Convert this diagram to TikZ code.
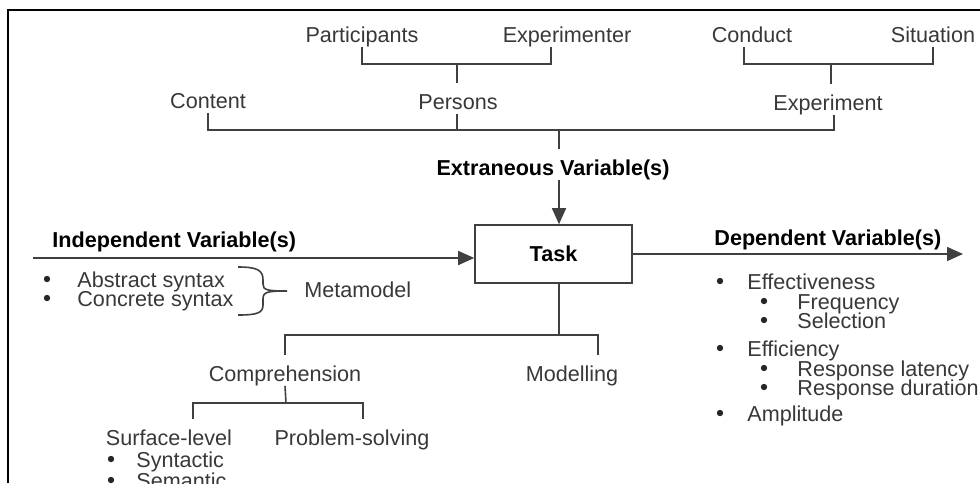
\documentclass[tikz,border=0pt]{standalone}
\usepackage{fontspec}
\setmainfont{Liberation Sans}
\usetikzlibrary{arrows.meta}
\definecolor{txtgray}{gray}{0.22}
\definecolor{linegray}{gray}{0.25}
\newcommand{\basefont}{\fontsize{10.8}{13}\selectfont}

\begin{document}
\begin{tikzpicture}[x=0.5pt, y=-0.5pt,
    lbl/.style={inner sep=0pt, text height=12.8pt, text depth=2.2pt, anchor=base, text=txtgray, font=\basefont},
    head/.style={lbl, text=black, font=\basefont\bfseries},
    item/.style={inner sep=0pt, anchor=base west, text=txtgray, font=\basefont},
    conn/.style={draw=linegray, line width=0.8pt},
    arr/.style={conn, -{Triangle[length=8pt,width=7pt]}},
    dot/.style={fill=black!85}]
  \useasboundingbox (0,0) rectangle (980,483);
  \draw[line width=1pt] (8,483) -- (8,10) -- (980,10);

  % extraneous variables
  \node[lbl] (part) at (362,42) {Participants};
  \node[lbl] (expr) at (567,42) {Experimenter};
  \node[lbl] (cond) at (752,42) {Conduct};
  \node[lbl] (sit) at (933,42) {Situation};
  \node[lbl] (cont) at (208,108) {Content};
  \node[lbl] (pers) at (458,109) {Persons};
  \node[lbl] (expt) at (828,110) {Experiment};
  \node[head] (extr) at (553,175) {Extraneous Variable(s)};
  \coordinate (jPE) at (457,64);
  \coordinate (jCS) at (831,64);
  \coordinate (jX) at (559,130);

  \draw[conn] (part.south) |- (jPE) -| ([xshift=-8pt]expr.south);
  \draw[conn] (jPE) -- (jPE |- pers.north);
  \draw[conn] ([xshift=-4pt]cond.south) |- (jCS) -| (sit.south);
  \draw[conn] (jCS) -- (jCS |- expt.north);
  \draw[conn] (cont.south) |- (jX) -| ([xshift=3pt]expt.south);
  \draw[conn] (jPE |- pers.south) -- (jPE |- jX);
  \draw[conn] (jX) -- (jX |- extr.north);

  % task
  \node[draw=linegray, line width=0.8pt, minimum width=78.5pt, minimum height=29pt,
        inner sep=0pt, font=\basefont\bfseries] (task) at (553.5,254) {Task};
  \draw[arr] (jX |- extr.south) -- (jX |- task.north);

  % independent variables
  \node[head, anchor=base west] (indep) at (52,247) {Independent Variable(s)};
  \coordinate (ivs) at (33,258);
  \draw[arr] (ivs) -- (ivs -| task.west);
  \foreach \nm/\y/\txt in {abs/287/Abstract syntax, conc/306/Concrete syntax}{
    \node[item] (\nm) at (77,\y) {\txt};
    \fill[dot] ([xshift=-15pt,yshift=4pt]\nm.base west) circle (1.6pt);
  }
  \draw[conn] (238,267) .. controls (257,267) and (263,270) .. (263,280) -- (263,284)
    .. controls (263,290) and (267,291) .. (287,291)
    .. controls (267,291) and (263,292) .. (263,299) -- (263,305)
    .. controls (263,313) and (257,315) .. (238,315);
  \node[item] (meta) at (304,297) {Metamodel};

  % dependent variables
  \node[head, anchor=base west] (dep) at (714,245) {Dependent Variable(s)};
  \coordinate (dve) at (963,254);
  \draw[arr] (task.east) -- (dve);
  \foreach \nm/\x/\y/\d/\txt in {eff/747/289/13.5/Effectiveness, freq/797/309/16.5/Frequency,
      sel/797/328/16.5/Selection, effi/747/356/13.5/Efficiency,
      lat/797/376/16.5/Response latency, dur/797/395/16.5/Response duration,
      amp/747/421/13.5/Amplitude}{
    \node[item] (\nm) at (\x,\y) {\txt};
    \fill[dot] ([xshift=-\d pt,yshift=4pt]\nm.base west) circle (1.6pt);
  }

  % task kinds
  \coordinate (jT) at (559,335);
  \coordinate (jC) at (286,403);
  \node[lbl] (comp) at (285,381) {Comprehension};
  \node[lbl] (mod) at (572,381) {Modelling};
  \node[lbl] (surf) at (169,445) {Surface-level};
  \node[lbl] (prob) at (352,445) {Problem-solving};
  \draw[conn] (task.south -| jT) -- (jT);
  \draw[conn] (comp.north) |- (jT) -| ([xshift=13pt]mod.north);
  \draw[conn] (comp.south) -- (jC);
  \draw[conn] ([xshift=12pt]surf.north) |- (jC) -| ([xshift=5.5pt]prob.north);
  \foreach \nm/\y/\txt in {syn/467/Syntactic, sem/488/Semantic}{
    \node[item] (\nm) at (136,\y) {\txt};
    \fill[dot] ([xshift=-12.5pt,yshift=4pt]\nm.base west) circle (1.6pt);
  }
\end{tikzpicture}
\end{document}
